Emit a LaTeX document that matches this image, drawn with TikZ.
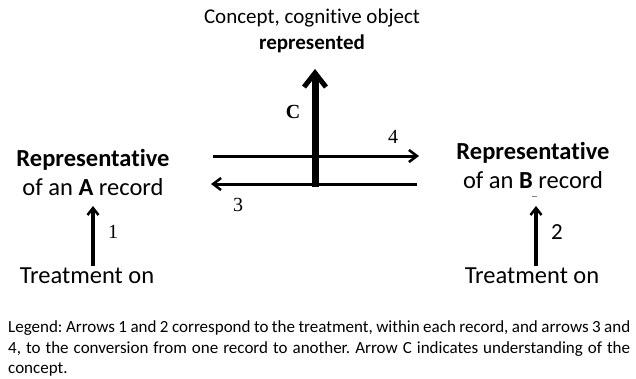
\documentclass[tikz,border=0pt]{standalone}
\usepackage{fontspec}
\setmainfont{Carlito}[Ligatures=NoCommon]
\newfontfamily\serifnum{Liberation Serif}
\usetikzlibrary{arrows.meta}
\frenchspacing
\begin{document}
\begin{tikzpicture}[x=1pt,y=-1pt,
  lbl/.style={font=\fontsize{24.5}{29}\selectfont, align=center, inner sep=0pt},
  top/.style={font=\fontsize{21}{26}\selectfont, align=center, inner sep=0pt},
  num/.style={font=\serifnum\fontsize{20}{22}\selectfont, inner sep=0pt},
  thin/.style={line width=3pt, -{Straight Barb[length=8pt,width=12pt,line width=2.5pt]}},
  thick/.style={line width=7pt, -{Straight Barb[length=14pt,width=22pt,line width=5pt]}},
  up/.style={line width=3.5pt, -{Straight Barb[length=7pt,width=11pt,line width=2.5pt]}}
]
\useasboundingbox (0,0) rectangle (636,378);
\fill[white] (0,0) rectangle (636,378);
% top text
\node[top] (concept) at (312,18) {Concept, cognitive object};
\node[top, font=\bfseries\fontsize{21}{26}\selectfont] (repr) at (312,44) {represented};
% central arrows
\coordinate (h1l) at (213,156); \coordinate (h1r) at (419,156);
\coordinate (h2l) at (211,184); \coordinate (h2r) at (417,184);
\coordinate (cb) at (315,187); \coordinate (ct) at (315,69);
\draw[thin] (h1l) -- (h1r);
\draw[thin] (h2r) -- (h2l);
\draw[thick] (cb) -- (ct);
\node[num, font=\serifnum\bfseries\fontsize{20}{22}\selectfont] (C) at (293,112) {C};
\node[num] (n4) at (393,137) {4};
\node[num] (n3) at (238,205) {3};
% left side
\node[lbl] (repA) at (93,172) {\textbf{Representative}\\of an \textbf{A} record};
\node[lbl] (treatA) at (87,276) {Treatment on};
\coordinate (a1b) at (93,266); \coordinate (a1t) at (93,206);
\draw[up] (a1b) -- (a1t);
\node[num] (n1) at (113,232) {1};
% right side
\node[lbl] (repB) at (533,165) {\textbf{Representative}\\of an \textbf{B} record};
\draw[gray, line width=0.8pt] (532,196) -- (537,196);
\node[lbl] (treatB) at (532,276) {Treatment on};
\coordinate (a2b) at (536,266); \coordinate (a2t) at (536,206);
\draw[up] (a2b) -- (a2t);
\node[lbl, font=\fontsize{23}{26}\selectfont] (n2) at (557,232) {2};
% legend
\node[anchor=north west, inner sep=0pt, text width=622pt, align=justify,
  font=\fontsize{17}{20.5}\selectfont] (legend) at (8,320.5)
  {Legend: Arrows 1 and 2 correspond to the treatment, within each record, and arrows 3 and 4, to the conversion from one record to another. Arrow C indicates understanding of the concept.};
\end{tikzpicture}
\end{document}
